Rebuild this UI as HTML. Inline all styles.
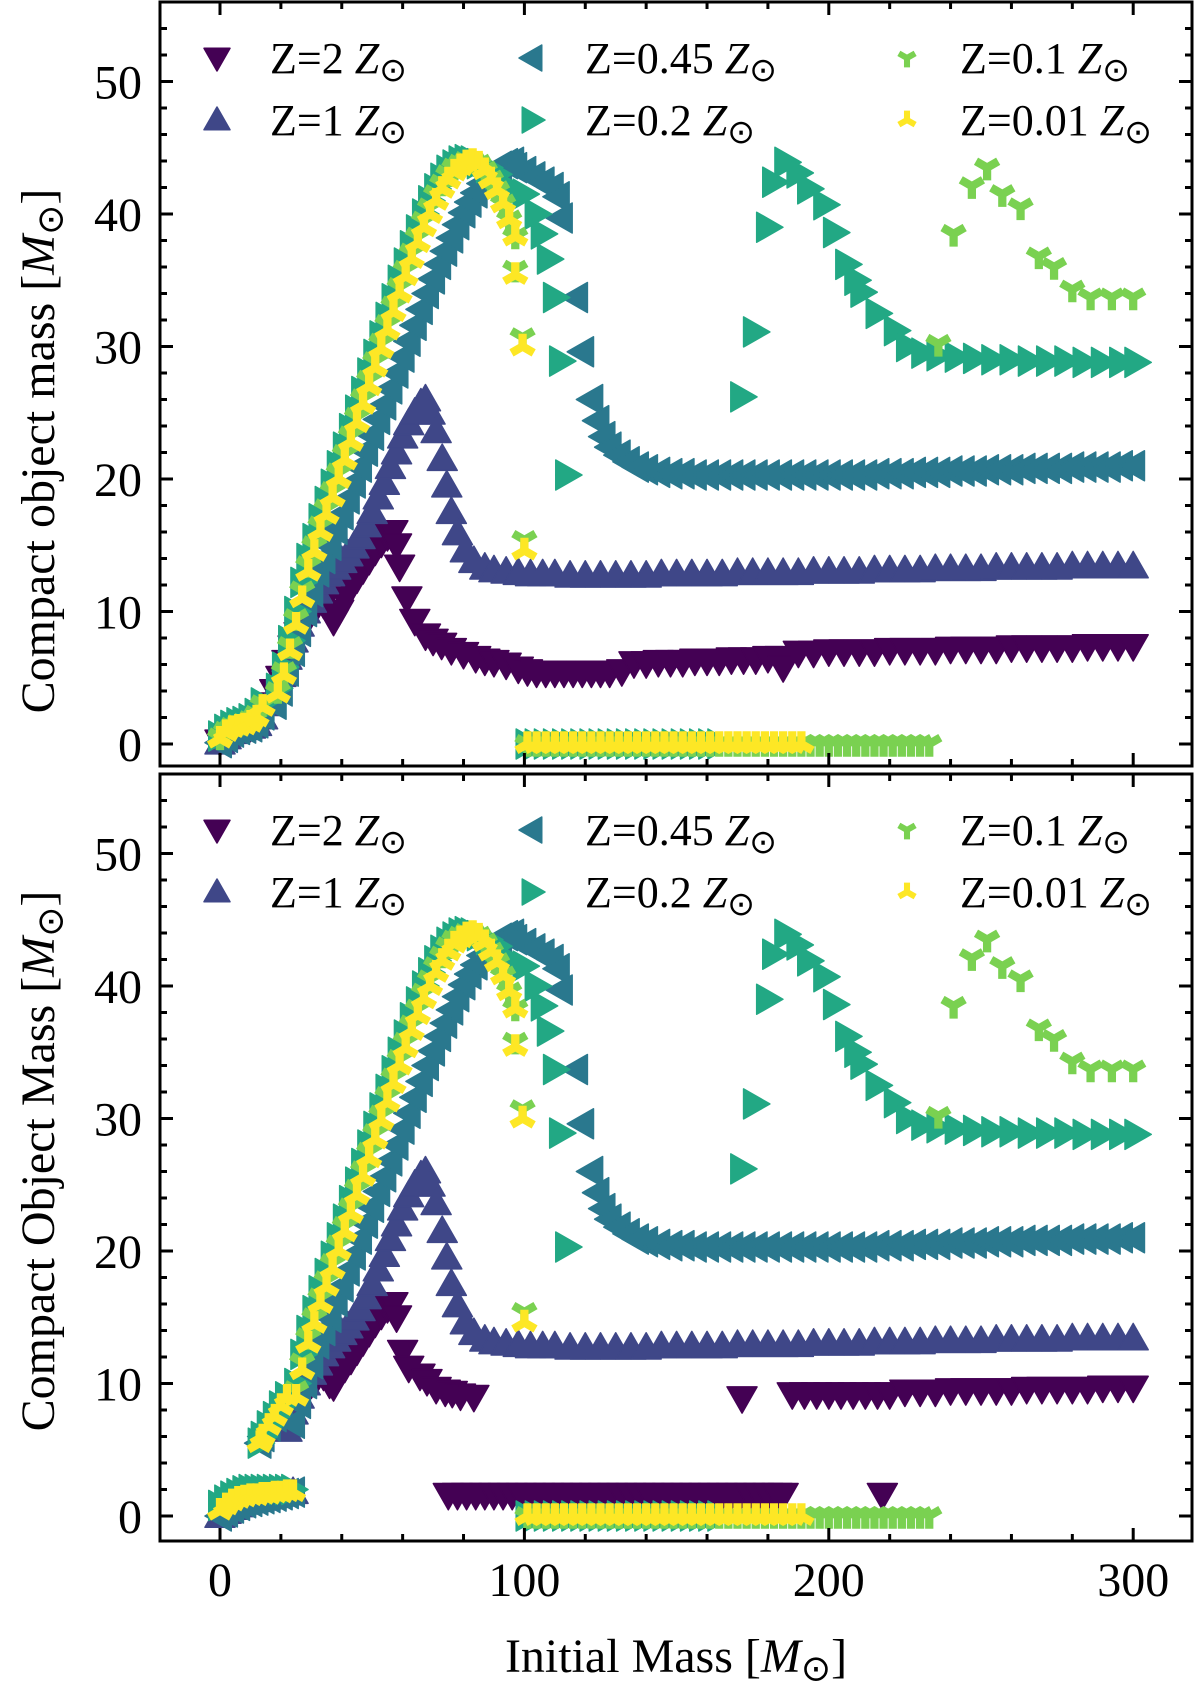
<!DOCTYPE html>
<html><head><meta charset="utf-8"><style>
html,body{margin:0;padding:0;background:#fff;}
svg{display:block;font-family:"Liberation Serif",serif;}
</style></head><body>
<svg id="chart" width="1200" height="1686" viewBox="0 0 1200 1686" xmlns="http://www.w3.org/2000/svg">
<g id="plots"></g>
</svg>
<script>
// ---------- data (top panel) ----------
const z2X = [0,2,4,6,8,10,12,14,16,18,20,22,24,26,28,30,32,34,36,37.3,39,41,43,45,47,49,51,53,55,56.8,58,59,61.4,64,67.5,70,72.8,76,80,84,87,90,94,98,101,104,107,110,113,116,119,122,125,128,132,136,140,144,148,152,156,160,164,168,172,176,180,184,185,190,195,200,205,210,215,220,225,230,235,240,245,250,255,260,265,270,275,280,285,290,295,300];
const z2Y = [0.2,0.6,0.9,1.1,1.2,1.3,1.5,2.0,3.0,4.0,5.0,6.2,7.3,8.3,9.2,10.0,10.5,10.6,10.0,9.3,10.0,11.0,11.8,12.5,13.2,13.9,14.6,15.2,15.7,16.0,15.0,13.4,11.0,9.3,8.2,7.8,7.5,7.1,6.8,6.5,6.3,6.2,6.0,5.7,5.5,5.4,5.4,5.4,5.4,5.4,5.4,5.4,5.4,5.4,5.5,6.1,6.1,6.2,6.2,6.2,6.3,6.3,6.3,6.4,6.4,6.4,6.5,6.5,5.8,6.9,6.9,7.0,7.0,7.0,7.0,7.1,7.1,7.1,7.1,7.2,7.2,7.2,7.2,7.3,7.3,7.3,7.3,7.3,7.4,7.4,7.4,7.4];
const z1X = [0,2,4,6,8,10,12,14,16,18,20,22,24,26,28,30,32,34,36,38,40,42,44,46,48,50,52,54,56,58,60,62,64,66,67.5,69,71,73,74.5,76,78,80.6,83.4,87,90,94,98,102,106,110,115,120,125,130,135,140,145,150,155,160,165,170,175,180,185,190,195,200,205,210,215,220,225,230,235,240,245,250,255,260,265,270,275,280,285,290,295,300];
const z1Y = [0.1,0.5,0.9,1.1,1.2,1.3,1.5,2.0,3.0,4.0,5.2,6.5,7.8,9.0,10.0,10.8,11.5,12.2,12.8,13.3,13.8,14.3,14.9,15.6,16.5,17.5,18.6,19.7,20.9,22.0,23.2,24.2,25.0,25.7,26.0,25.0,23.6,21.5,19.5,17.5,15.9,14.6,13.8,13.3,13.1,13.0,12.9,12.8,12.8,12.8,12.7,12.7,12.7,12.7,12.7,12.7,12.8,12.8,12.8,12.8,12.8,12.9,12.9,12.9,12.9,12.9,13.0,13.0,13.0,13.0,13.1,13.1,13.1,13.1,13.2,13.2,13.2,13.2,13.3,13.3,13.3,13.3,13.3,13.4,13.4,13.4,13.4,13.4];
const z045X = [0,2,4,6,8,10,12,14,18,20,22,24,26,28,30,32,34,36,38,40,42,44,46,48,50,52,54,56,58,60,62,64,66,68,70,72,74,76,78,80,82,84,86,88,90,92,94,96,97,100,103,106,109,111,112,117,119,122,124,126,128,131,134,137,140,144,148,152,156,160,164,168,172,176,180,184,188,192,196,200,204,208,212,216,220,224,228,232,236,240,244,248,252,256,260,264,268,272,276,280,284,288,292,296,300];
const z045Y = [0.1,0.5,0.9,1.1,1.2,1.3,1.6,2.2,3.0,4.0,5.5,7.0,8.5,10.0,11.5,13.0,14.0,15.0,16.2,17.3,18.5,19.7,20.9,22.1,23.3,24.5,25.6,26.8,28.0,29.2,30.4,31.6,32.8,34.0,35.1,36.2,37.2,38.2,39.2,40.1,40.9,41.6,42.3,42.9,43.3,43.6,43.8,43.9,43.5,43.2,42.8,42.4,42.0,41.3,39.7,33.7,29.6,26.0,24.4,23.2,22.4,21.8,21.3,20.9,20.7,20.5,20.4,20.4,20.3,20.3,20.3,20.3,20.3,20.3,20.3,20.3,20.3,20.3,20.3,20.3,20.3,20.3,20.3,20.4,20.4,20.4,20.5,20.5,20.5,20.6,20.6,20.6,20.7,20.7,20.7,20.8,20.8,20.8,20.8,20.9,20.9,20.9,20.9,21.0,21.0];
const z02X = [0,2,4,6,8,10,12,14,19,21,23,25,27,29,31,33,35,37,39,41,43,45,47,49,51,53,55,57,59,61,63,65,67,69,71,73,75,77,79,81,83,85,88,91,95,100,104,106,108,110,112,114,101,104,107,110,113,116,119,122,125,128,131,134,137,140,143,146,149,152,155,158,161,164,171.5,175.7,180,182,186,190,193.5,198.8,202,206,209,211,216,222,226,231,236,242,248,254,260,266,272,278,284,290,296,301];
const z02Y = [0.6,1.1,1.4,1.6,1.7,1.9,2.3,3.1,4.2,5.8,7.8,10.0,12.2,14.0,15.5,17.0,18.3,19.6,21.0,22.4,23.8,25.2,26.6,28.0,29.4,30.8,32.2,33.6,35.0,36.3,37.6,38.8,40.0,41.0,41.9,42.7,43.3,43.7,44.0,44.1,44.0,43.8,43.5,43.0,42.0,41.5,40.0,38.5,36.6,33.7,28.9,20.3,0,0,0,0,0,0,0,0,0,0,0,0,0,0,0,0,0,0,0,0,0,0,26.2,31.1,39.0,42.4,43.9,43.1,41.9,40.7,38.6,36.2,35.0,34.1,32.5,31.2,30.0,29.5,29.3,29.2,29.1,29.0,29.0,28.9,28.9,28.9,28.8,28.8,28.8,28.8];
const z01X = [0,2,4,6,8,10,12,14,19,21,23,25,27,29,31,33,35,37,39,41,43,45,47,49,51,53,55,57,59,61,63,65,67,69,71,73,75,77,79,81,83,85,87,89,91,93,95,97,97,99.4,100,101,104,107,110,113,116,119,122,125,128,131,134,137,140,143,146,149,152,155,158,161,164,167,170,173,176,179,182,185,188,191,194,197,200,203,206,209,212,215,218,221,224,227,230,233,236,241,247,252,257,263,269,274,280,286,293,300];
const z01Y = [0.5,1.0,1.3,1.5,1.6,1.8,2.2,3.0,4.0,5.5,7.4,9.5,11.6,13.5,15.0,16.5,17.8,19.1,20.5,21.9,23.3,24.7,26.1,27.5,28.9,30.3,31.7,33.1,34.5,35.8,37.1,38.3,39.5,40.5,41.5,42.3,43.0,43.5,43.8,44.0,44.0,43.8,43.3,42.6,41.8,40.8,39.6,38.3,35.8,30.7,15.4,0,0,0,0,0,0,0,0,0,0,0,0,0,0,0,0,0,0,0,0,0,0,0,0,0,0,0,0,0,0,0,0,0,0,0,0,0,0,0,0,0,0,0,0,0,30.2,38.5,42.1,43.5,41.5,40.5,36.8,36.0,34.3,33.7,33.7,33.7];
const z001X = [0,2,4,6,8,10,12,14,19,21,23,25,27,29,31,33,35,37,39,41,43,45,47,49,51,53,55,57,59,61,63,65,67,69,71,73,75,77,79,81,83,85,87,89,91,93,95,97,97,99.4,100,101,104,107,110,113,116,119,122,125,128,131,134,137,140,143,146,149,152,155,158,161,164,167,170,173,176,179,182,185,188,191];
const z001Y = [0.4,0.9,1.2,1.3,1.4,1.6,2.0,2.8,3.8,5.2,7.0,9.0,11.0,13.0,14.5,16.0,17.3,18.6,20.0,21.4,22.8,24.2,25.6,27.0,28.4,29.8,31.2,32.6,34.0,35.3,36.6,37.8,39.0,40.0,41.0,41.9,42.6,43.2,43.6,43.9,44.0,43.8,43.3,42.6,41.8,40.8,39.6,38.3,35.4,30.0,14.6,0,0,0,0,0,0,0,0,0,0,0,0,0,0,0,0,0,0,0,0,0,0,0,0,0,0,0,0,0,0,0];
// ---------- data (bottom panel extras) ----------
const z2BotX = [30,32,34,36,37.3,39,41,43,45,47,49,51,53,55,56.8,58,60,62,65.7,68,71,74,76.3,79,83.4,75,78,81,84,87,90,93,96,99,102,105,108,111,114,117,120,123,126,129,132,135,138,141,144,147,150,153,156,159,162,165,168,171,174,177,180,183,185,171.5,188,192,196,200,204,208,212,216,220,217.6,225,230,235,240,245,250,255,260,265,270,275,280,285,290,295,300];
const z2BotY = [10.0,10.5,10.6,10.0,9.8,10.5,11.2,11.8,12.5,13.2,13.9,14.6,15.2,15.7,16.0,15.0,12.4,11.2,10.6,10.2,9.6,9.4,9.3,9.1,9.0,1.6,1.6,1.6,1.6,1.6,1.6,1.6,1.6,1.6,1.6,1.6,1.6,1.6,1.6,1.6,1.6,1.6,1.6,1.6,1.6,1.6,1.6,1.6,1.6,1.6,1.6,1.6,1.6,1.6,1.6,1.6,1.6,1.6,1.6,1.6,1.6,1.6,1.6,8.9,9.2,9.2,9.2,9.2,9.2,9.2,9.2,9.2,9.2,1.6,9.4,9.4,9.4,9.5,9.5,9.5,9.5,9.5,9.6,9.6,9.6,9.6,9.6,9.7,9.7,9.7];
const clusterX = [0,2,4,6,8,10,12,14,16,18,20,22,24];
const clusterLowY = [0.0,0.3,0.6,0.8,1.0,1.1,1.2,1.3,1.4,1.5,1.6,1.7,1.8];
const clusterHighY = [0.8,1.2,1.5,1.7,1.9,2.0,2.0,2.0,2.0,2.0,2.0,2.0,2.0];
const clusterYellowY = [0.4,0.8,1.1,1.3,1.4,1.5,1.5,1.6,1.6,1.7,1.7,1.8,1.8];
const startX = [13,14,16,18,20,22];
const startY = [5.5,6.0,6.8,7.5,8.3,9.0];
const xTicks = [0,100,200,300];
const yTicks = [0,10,20,30,40,50];

// ---------- geometry ----------
const X0 = 220, XS = 3.044, LEFT = 160, RIGHT = 1192;
const panels = [
  {top:2, bottom:766, y0:744, label:"Compact object mass ", cy:451, name:"top-panel"},
  {top:774, bottom:1541, y0:1516, label:"Compact Object Mass ", cy:1161, name:"bottom-panel"}
];
const YS = 13.25;
const colors = {z2:"#440154", z1:"#3f4788", z045:"#2a788e", z02:"#22a884", z01:"#7ad151", z001:"#fde725"};
const NS = "http://www.w3.org/2000/svg";
const root = document.getElementById("plots");
function xs(v){return X0 + v*XS;}
function mk(tag, attrs, parent){const e=document.createElementNS(NS,tag);for(const k in attrs)e.setAttribute(k,attrs[k]);(parent||root).appendChild(e);return e;}

function marker(g, shape, cx, cy, col, s){
  let e;
  if(shape==="down"){e=mk("polygon",{points:`${cx-s},${cy-s*0.75} ${cx+s},${cy-s*0.75} ${cx},${cy+s}`,fill:col,stroke:col,"stroke-width":1.5,"stroke-linejoin":"round"},g);}
  else if(shape==="up"){e=mk("polygon",{points:`${cx-s},${cy+s*0.75} ${cx+s},${cy+s*0.75} ${cx},${cy-s}`,fill:col,stroke:col,"stroke-width":1.5,"stroke-linejoin":"round"},g);}
  else if(shape==="left"){e=mk("polygon",{points:`${cx+s*0.75},${cy-s} ${cx+s*0.75},${cy+s} ${cx-s},${cy}`,fill:col,stroke:col,"stroke-width":1.5,"stroke-linejoin":"round"},g);}
  else if(shape==="right"){e=mk("polygon",{points:`${cx-s*0.75},${cy-s} ${cx-s*0.75},${cy+s} ${cx+s},${cy}`,fill:col,stroke:col,"stroke-width":1.5,"stroke-linejoin":"round"},g);}
  else if(shape==="tridown"){const a=s*0.85;e=mk("path",{d:`M${cx},${cy}L${cx},${cy+a}M${cx},${cy}L${cx-a*0.87},${cy-a*0.5}M${cx},${cy}L${cx+a*0.87},${cy-a*0.5}`,stroke:col,"stroke-width":s*0.55,fill:"none"},g);}
  else {const a=s*0.85;e=mk("path",{d:`M${cx},${cy}L${cx},${cy-a}M${cx},${cy}L${cx-a*0.87},${cy+a*0.5}M${cx},${cy}L${cx+a*0.87},${cy+a*0.5}`,stroke:col,"stroke-width":s*0.55,fill:"none"},g);}
  return e;
}
function series(p, g, xsArr, ysArr, shape, col, name, filterMin){
  const sg = mk("g",{},g);
  
  
  for(let i=0;i<xsArr.length;i++){
    if(filterMin!==undefined && xsArr[i]<filterMin) continue;
    const m = marker(sg, shape, xs(xsArr[i]), p.y0 - ysArr[i]*YS, col, 15);
    
    
  }
}
function mtext(parent, x, y, size, anchor, pre, italic, post){
  const t = mk("text",{x:x,y:y,"font-size":size,"text-anchor":anchor,fill:"#000"},parent);
  const a=document.createElementNS(NS,"tspan");a.textContent=pre;t.appendChild(a);
  const b=document.createElementNS(NS,"tspan");b.setAttribute("font-style","italic");b.textContent=italic;t.appendChild(b);
  const c=document.createElementNS(NS,"tspan");c.setAttribute("font-size",size*0.75);c.setAttribute("dy",size*0.18);c.textContent="\u2299";t.appendChild(c);
  if(post){const d=document.createElementNS(NS,"tspan");d.setAttribute("dy",-size*0.18);d.textContent=post;t.appendChild(d);}
  return t;
}

panels.forEach((p, pi)=>{
  const g = mk("g",{});
  
  
  const clipId = "clip"+pi;
  const cp = mk("clipPath",{id:clipId},g); mk("rect",{x:LEFT,y:p.top,width:RIGHT-LEFT,height:p.bottom-p.top},cp);
  const dg = mk("g",{"clip-path":`url(#${clipId})`},g);
  if(pi===0){
    series(p,dg,z2X,z2Y,"down",colors.z2,"series-z2");
    series(p,dg,z1X,z1Y,"up",colors.z1,"series-z1");
    series(p,dg,z045X,z045Y,"left",colors.z045,"series-z045");
    series(p,dg,z02X,z02Y,"right",colors.z02,"series-z02");
    series(p,dg,z01X,z01Y,"tridown",colors.z01,"series-z01");
    series(p,dg,z001X,z001Y,"triup",colors.z001,"series-z001");
  } else {
    series(p,dg,z2BotX,z2BotY,"down",colors.z2,"series-z2");
    series(p,dg,z1X,z1Y,"up",colors.z1,"series-z1",22);
    series(p,dg,clusterX,clusterLowY,"up",colors.z1,"cluster-z1");
    series(p,dg,clusterX,clusterLowY,"left",colors.z045,"cluster-z045");
    series(p,dg,z045X,z045Y,"left",colors.z045,"series-z045",24);
    series(p,dg,startX,startY,"left",colors.z045,"start-z045");
    series(p,dg,clusterX,clusterHighY,"right",colors.z02,"cluster-z02");
    series(p,dg,z02X,z02Y,"right",colors.z02,"series-z02",24);
    series(p,dg,startX,startY,"right",colors.z02,"start-z02");
    series(p,dg,z01X,z01Y,"tridown",colors.z01,"series-z01",24);
    series(p,dg,clusterX,clusterYellowY,"triup",colors.z001,"cluster-z001");
    series(p,dg,z001X,z001Y,"triup",colors.z001,"series-z001",24);
    series(p,dg,startX,startY,"triup",colors.z001,"start-z001");
  }
  const fr = mk("rect",{x:LEFT,y:p.top,width:RIGHT-LEFT,height:p.bottom-p.top,fill:"none",stroke:"#000","stroke-width":3},g);
  
  
  const tg = mk("g",{stroke:"#000","stroke-width":3},g);
  
  
  for(let v=-20; v<=320; v+=20){
    const x=xs(v); if(x<LEFT+2||x>RIGHT-2) continue;
    const L = (v%100===0)?13:7;
    mk("line",{x1:x,y1:p.bottom,x2:x,y2:p.bottom-L},tg);
    mk("line",{x1:x,y1:p.top,x2:x,y2:p.top+L},tg);
  }
  for(let v=0; v<=56; v+=2){
    const y=p.y0 - v*YS; if(y<p.top+2) continue;
    const L = (v%10===0)?13:7;
    mk("line",{x1:LEFT,y1:y,x2:LEFT+L,y2:y},tg);
    mk("line",{x1:RIGHT,y1:y,x2:RIGHT-L,y2:y},tg);
  }
  yTicks.forEach(v=>{
    const t = mk("text",{x:142,y:p.y0 - v*YS + 17,"font-size":48,"text-anchor":"end"},g);
    t.textContent = v;
    
    
  });
  if(pi===1){
    xTicks.forEach(v=>{
      const t = mk("text",{x:xs(v),y:1596,"font-size":48,"text-anchor":"middle"},g);
      t.textContent = v;
      
      
    });
  }
  const yl = mk("g",{transform:`translate(54,${p.cy}) rotate(-90)`},g);
  const ylt = mtext(yl,0,0,48,"middle",p.label+"[","M","]");
  
  
  const lg = mk("g",{},g);
  
  
  const ly1 = p.top + 56, ly2 = p.top + 118;
  const entries = [
    ["down",colors.z2,217,ly1,"Z=2 "],["up",colors.z1,217,ly2,"Z=1 "],
    ["left",colors.z045,532,ly1,"Z=0.45 "],["right",colors.z02,532,ly2,"Z=0.2 "],
    ["tridown",colors.z01,907,ly1,"Z=0.1 "],["triup",colors.z001,907,ly2,"Z=0.01 "]
  ];
  entries.forEach(e=>{
    const eg = mk("g",{},lg);
    
    
    marker(eg,e[0],e[2],e[3],e[1],e[0].startsWith("tri")?11:13);
    mtext(eg,e[2]+53,e[3]+15,44,"start",e[4],"Z","");
  });
});
const xl = mtext(root,676,1672,48,"middle","Initial Mass [","M","]");


</script>
</body></html>
